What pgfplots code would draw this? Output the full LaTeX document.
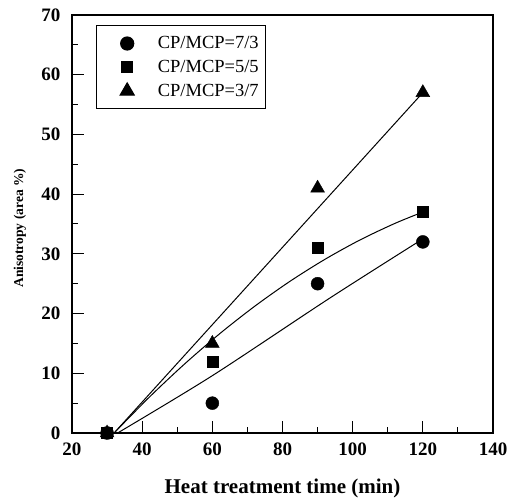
\documentclass[border=0pt]{standalone}
\usepackage{pgfplots}
\pgfplotsset{compat=1.18}
\usepackage{fontspec}
\setmainfont{Liberation Serif}
\pgfplotsset{mylegimg/.style={legend image code/.code={\draw[##1] plot coordinates {(0pt,0pt)}; \path (-25pt,0pt) (28pt,0pt);}}}
\begin{document}
\begin{tikzpicture}
\begin{axis}[
  scale only axis,
  width=421pt, height=418pt,
  xmin=20, xmax=140, ymin=0, ymax=70,
  xtick={20,40,...,140}, ytick={0,10,...,70},
  minor xtick={30,50,...,130}, minor ytick={5,15,...,65},
  xtick pos=left, ytick pos=left,
  tick align=inside,
  major tick length=12pt, minor tick length=6pt,
  every tick/.style={black, line width=1pt},
  axis line style={line width=1.4pt},
  tick label style={font=\fontsize{19}{21}\selectfont\bfseries},
  xticklabel style={yshift=-6pt},
  yticklabel style={xshift=-8pt},
  /pgf/number format/assume math mode=true,
  xlabel={Heat treatment time (min)},
  ylabel={Anisotropy (area \%)},
  every axis x label/.style={at={(axis description cs:0.5,0)}, anchor=center, yshift=-55pt,
     font=\fontsize{21}{24}\selectfont\bfseries},
  every axis y label/.style={at={(axis description cs:-0.1235,0.49)}, anchor=center, rotate=90,
     font=\fontsize{13.5}{16}\selectfont\bfseries},
  legend style={at={(0.057,0.976)}, anchor=north west, draw=black, line width=1.2pt,
    font=\fontsize{18.5}{21}\selectfont, inner xsep=5pt, inner ysep=9pt, row sep=6pt},
  legend cell align=left,
]
\addplot[only marks, mark=*, mark size=6.5pt, black, mylegimg]
  coordinates {(30,0) (60,5) (90,25) (120,32)};
\addlegendentry{CP/MCP=7/3}
\addplot[only marks, mark=square*, mark size=5.5pt, black, mylegimg]
  coordinates {(30,0) (60,12) (90,31) (120,37)};
\addlegendentry{CP/MCP=5/5}
\addplot[only marks, mark=triangle*, mark size=8pt, black, mylegimg]
  coordinates {(30,0) (60,15) (90,41) (120,57)};
\addlegendentry{CP/MCP=3/7}
\addplot[black, line width=1pt, smooth, forget plot] coordinates {(33,0) (60,9.6) (93.5,22.6) (120,32.5)};
\addplot[black, line width=1pt, smooth, forget plot] coordinates {(32,0) (42,5.98) (52,11.51) (62,16.58) (72,21.19) (82,25.35) (92,29.05) (102,32.30) (112,35.09) (120,37)};
\addplot[black, line width=1pt, forget plot] coordinates {(32,0) (120,57)};
\end{axis}
\pgfresetboundingbox
\path (current axis.south west) +(-72pt,-67pt);
\path (current axis.north east) +(24pt,15pt);
\end{tikzpicture}
\end{document}
